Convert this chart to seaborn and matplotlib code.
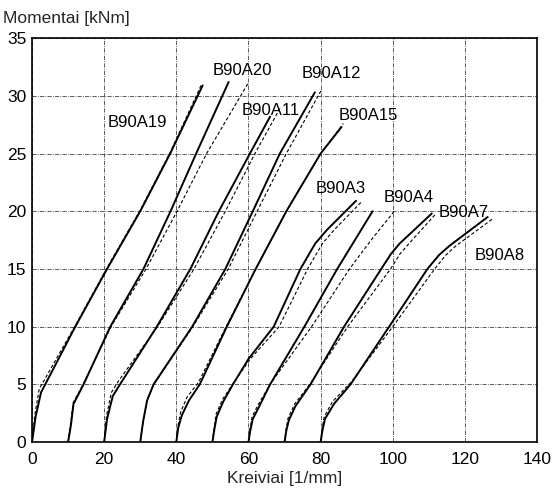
import matplotlib
matplotlib.use("Agg")
import matplotlib.pyplot as plt
import seaborn as sns
import pandas as pd

# ---- data (curvature [1/mm] offset per specimen, moment [kNm]) ----
a19_x = [0, 1.0, 2.5, 12, 20.8, 30, 38.3, 47.3]
a19_y = [0, 2.2, 4.3, 10, 15, 20, 25, 30.9]
a19c_x = [0, 0.8, 2.0, 4, 12, 20.8, 30, 38.3, 47.0]
a19c_y = [0, 2.4, 4.6, 5.7, 10.1, 15.1, 20.1, 25.1, 31.0]

a20_x = [10, 10.8, 11.5, 14.3, 21.7, 30.9, 38.4, 45.5, 54.5]
a20_y = [0, 1.5, 3.3, 5, 10, 15, 20, 25, 31.2]
a20c_x = [10, 10.7, 11.4, 14.3, 21.9, 31.6, 40.2, 48.4, 60.1]
a20c_y = [0, 1.6, 3.4, 5.1, 10, 15, 20, 25, 31.2]

a11_x = [20, 20.8, 22.4, 24.4, 34.6, 43.9, 51.8, 60.4, 66.0]
a11_y = [0, 2.0, 4.0, 5, 10, 15, 20, 25, 28.2]
a11c_x = [20, 20.6, 22.0, 24.0, 34.8, 44.9, 53.6, 61.8, 68.7]
a11c_y = [0, 2.2, 4.3, 5.3, 10, 15, 20, 25, 28.9]

a12_x = [30, 30.8, 31.9, 33.7, 44.4, 53.6, 61.2, 68.7, 78.4]
a12_y = [0, 1.8, 3.6, 5, 10, 15, 20, 25, 30.3]
a12c_x = [30, 30.8, 31.9, 33.8, 44.6, 54.4, 62.4, 70.5, 80.2]
a12c_y = [0, 1.8, 3.7, 5, 10, 15, 20, 25, 30.5]

a15_x = [40, 40.5, 41.5, 43.5, 46.5, 54, 62, 70.5, 80, 85.8]
a15_y = [0, 1.2, 2.3, 3.6, 5, 10, 15, 20, 25, 27.3]
a15c_x = [40, 40.4, 41.2, 43, 46.2, 53.8, 62, 70.5, 80, 86.3]
a15c_y = [0, 1.3, 2.6, 3.9, 5.2, 10, 15, 20, 25, 27.6]

a3_x = [50, 50.6, 51.2, 53, 55.7, 60, 67, 74.4, 78.5, 81.8, 89.8]
a3_y = [0, 1.2, 2.2, 3.5, 5, 7.2, 10, 15, 17.2, 18.4, 20.9]
a3c_x = [50, 50.5, 51.0, 52.8, 55.8, 60.5, 68.5, 76.4, 80.5, 83.8, 91.6]
a3c_y = [0, 1.3, 2.4, 3.7, 5.1, 7.2, 10, 15, 17.2, 18.4, 20.9]

a4_x = [60, 60.5, 61.2, 63, 66, 75.5, 84.6, 89.5, 94.4]
a4_y = [0, 1.0, 2.0, 3.1, 5, 10, 15, 17.5, 20]
a4c_x = [60, 60.4, 61.0, 62.8, 66.2, 77.5, 88, 94, 100.4]
a4c_y = [0, 1.1, 2.2, 3.3, 5.1, 10, 15, 17.5, 20]

a7_x = [70, 70.5, 71.2, 73, 77.2, 86.5, 96.8, 99.5, 101.9, 110.8]
a7_y = [0, 1.0, 1.9, 3.1, 5, 10, 15, 16.3, 17.2, 19.8]
a7c_x = [70, 70.4, 71.0, 72.8, 77.0, 87.5, 99.4, 102.0, 104.5, 112]
a7c_y = [0, 1.1, 2.1, 3.3, 5, 10, 15, 16.3, 17.2, 19.8]

a8_x = [80, 80.5, 81.2, 83.7, 88.3, 99, 109.6, 112.8, 115.7, 126.3]
a8_y = [0, 1.0, 2.0, 3.3, 5, 10, 15, 16.2, 17, 19.5]
a8c_x = [80, 80.4, 81.0, 83.3, 88.5, 100, 111.6, 114.7, 117.5, 127.5]
a8c_y = [0, 1.1, 2.2, 3.5, 5.2, 10, 15, 16.2, 17, 19.3]

specimens = ["B90A19", "B90A20", "B90A11", "B90A12", "B90A15",
             "B90A3", "B90A4", "B90A7", "B90A8"]
label_x = [29.2, 58.3, 66.1, 83.0, 93.3, 85.5, 104.4, 119.7, 129.7]
label_y = [27.7, 32.2, 28.7, 31.9, 28.3, 22.0, 21.2, 19.9, 16.2]

x_ticks = [0, 20, 40, 60, 80, 100, 120, 140]
y_ticks = [0, 5, 10, 15, 20, 25, 30, 35]

solid = [(a19_x, a19_y), (a20_x, a20_y), (a11_x, a11_y), (a12_x, a12_y),
         (a15_x, a15_y), (a3_x, a3_y), (a4_x, a4_y), (a7_x, a7_y), (a8_x, a8_y)]
dashed = [(a19c_x, a19c_y), (a20c_x, a20c_y), (a11c_x, a11c_y), (a12c_x, a12c_y),
          (a15c_x, a15c_y), (a3c_x, a3c_y), (a4c_x, a4c_y), (a7c_x, a7c_y),
          (a8c_x, a8c_y)]

rows = []
for name, (xs, ys) in zip(specimens, solid):
    for x, y in zip(xs, ys):
        rows.append({"curve": name + "_exp", "kind": "exp", "x": x, "y": y})
for name, (xs, ys) in zip(specimens, dashed):
    for x, y in zip(xs, ys):
        rows.append({"curve": name + "_calc", "kind": "calc", "x": x, "y": y})
df = pd.DataFrame(rows)

sns.set_style("white")
plt.rcParams["font.family"] = ["Liberation Sans", "DejaVu Sans"]

fig = plt.figure(figsize=(5.52, 4.95), dpi=100)
ax = fig.add_axes([0.058, 0.107, 0.915, 0.816])

for curve, sub in df.groupby("curve", sort=False):
    kind = sub["kind"].iloc[0]
    if kind == "exp":
        sns.lineplot(data=sub, x="x", y="y", sort=False, estimator=None,
                     color="black", lw=1.4, ax=ax, zorder=3)
    else:
        sns.lineplot(data=sub, x="x", y="y", sort=False, estimator=None,
                     color="black", lw=0.8, ax=ax, zorder=2,
                     dashes=False, linestyle=(0, (3, 2)))

for name, lx, ly in zip(specimens, label_x, label_y):
    ax.text(lx, ly, name, ha="center", va="center", fontsize=12,
            color="black", zorder=5)

ax.set_xlim(0, 140)
ax.set_ylim(0, 35)
ax.set_xticks(x_ticks)
ax.set_yticks(y_ticks)
ax.tick_params(labelsize=12.5, direction="in", length=3, width=0.8,
               colors="black", pad=4)
ax.tick_params(axis="x", pad=7)
ax.grid(True, color="0.25", lw=0.6, linestyle=(0, (5, 1.5, 1, 1.5)))
for s in ax.spines.values():
    s.set_color("black")
    s.set_linewidth(1.2)
ax.set_xlabel("Kreiviai [1/mm]", fontsize=12.5, labelpad=3)
ax.set_ylabel("")
fig.text(0.005, 0.962, "Momentai [kNm]", fontsize=12.5, ha="left", va="center")

fig.savefig("out.png", dpi=100)
